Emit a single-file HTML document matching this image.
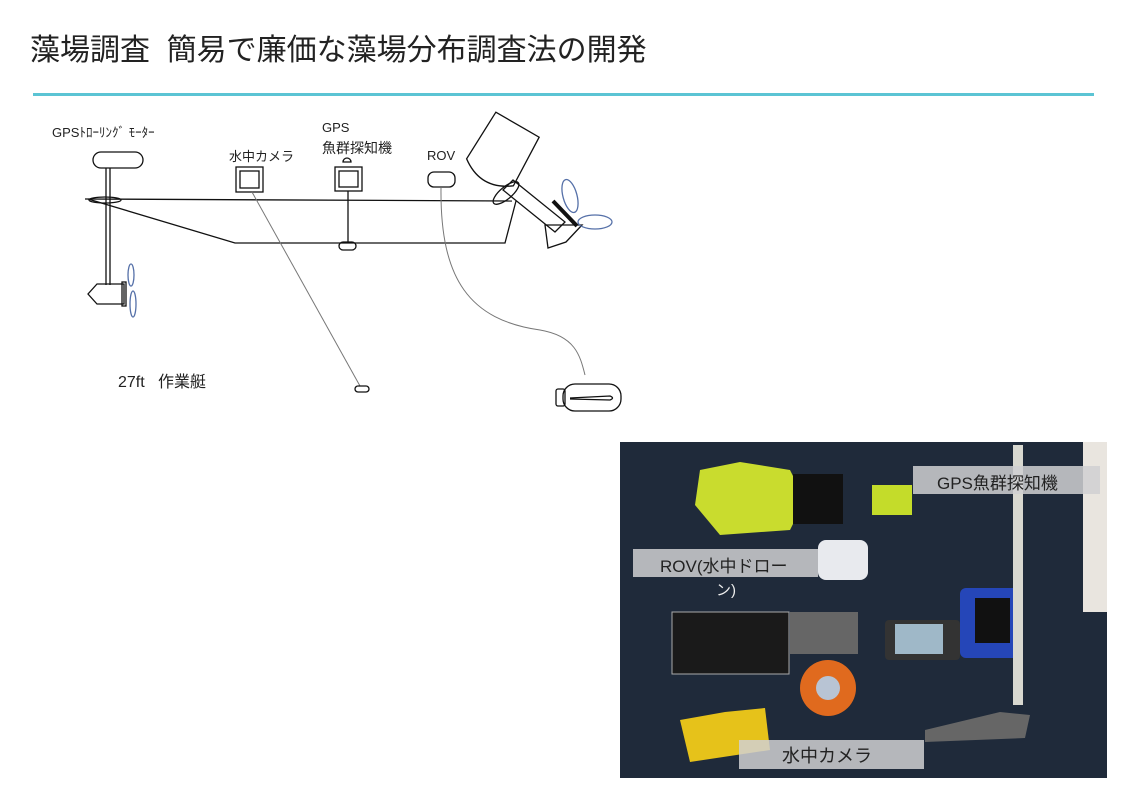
<!DOCTYPE html>
<html><head><meta charset="utf-8"><style>
body{margin:0;width:1123px;height:794px;background:#fff;overflow:hidden;position:relative;font-family:"Liberation Sans","Noto Sans CJK JP",sans-serif}
.t{position:absolute;white-space:nowrap;color:#222}
</style></head><body>
<div class="t" style="left:30px;top:25px;font-size:30px;color:#222">藻場調査&nbsp;&nbsp;簡易で廉価な藻場分布調査法の開発</div>
<div style="position:absolute;left:33px;top:93px;width:1061px;height:3px;background:#5bc4d4"></div>

<svg width="1123" height="794" style="position:absolute;left:0;top:0" xmlns="http://www.w3.org/2000/svg">
<g fill="none" stroke="#111" stroke-width="1.3">
 <line x1="85" y1="199" x2="512" y2="201"/>
 <polyline points="88,199 235,243 505,243 516,201"/>
 <rect x="93" y="152" width="50" height="16" rx="8"/>
 <line x1="106" y1="168" x2="106" y2="285"/>
 <line x1="110" y1="168" x2="110" y2="285"/>
 <ellipse cx="105" cy="200" rx="16" ry="3"/>
 <polygon points="97,284 124,284 124,304 97,304 88,294"/>
 <rect x="122" y="282" width="4" height="24"/>
 <rect x="236" y="167" width="27" height="25"/><rect x="240" y="171" width="19" height="17"/>
 <line x1="252" y1="192" x2="360" y2="386" stroke="#777" stroke-width="1"/>
 <rect x="355" y="386" width="14" height="6" rx="3"/>
 <rect x="335" y="167" width="27" height="24"/><rect x="339" y="171" width="19" height="16"/>
 <path d="M343,162 a4,4 0 0 1 8,0 z"/>
 <line x1="348" y1="191" x2="348" y2="242"/>
 <rect x="339" y="242" width="17" height="8" rx="4"/>
 <rect x="428" y="172" width="27" height="15" rx="6"/>
 <path d="M441,188 C440,280 470,320 540,330 C575,336 580,355 585,375" stroke="#777" stroke-width="1"/>
 <rect x="563" y="384" width="58" height="27" rx="12"/>
 <rect x="556" y="389" width="9" height="17" rx="2"/>
 <path d="M570,398 L610,396 Q615,398 610,400 L570,399" />
 <!-- outboard -->
 <g transform="rotate(30 500 155)">
  <path d="M475,120 L525,120 L527,175 Q500,195 473,175 z"/>
 </g>
 <polygon points="503,190 513,180 565,222 555,232"/>
 <ellipse cx="506" cy="193" rx="6" ry="16" transform="rotate(50 506 193)"/>
 <line x1="553" y1="201" x2="577" y2="226" stroke-width="4"/>
 <polygon points="545,225 582,225 566,242 548,248"/>
</g>
<g fill="none" stroke="#5570a8" stroke-width="1.3">
 <ellipse cx="131" cy="275" rx="3" ry="11"/><ellipse cx="133" cy="304" rx="3" ry="13"/>
 <ellipse cx="570" cy="196" rx="7" ry="17" transform="rotate(-15 570 196)"/>
 <ellipse cx="595" cy="222" rx="17" ry="7"/>
</g>
<g>
 <rect x="620" y="442" width="487" height="336" fill="#1f2a3a"/>
 <rect x="1083" y="442" width="24" height="170" fill="#e9e5df"/>
 <polygon points="700,470 740,462 790,470 805,500 790,530 720,535 695,505" fill="#c9dc2e"/>
 <rect x="793" y="474" width="50" height="50" fill="#111"/>
 <rect x="872" y="485" width="40" height="30" fill="#c4dc2a"/>
 <rect x="818" y="540" width="50" height="40" rx="8" fill="#e8eaee"/>
 <rect x="672" y="612" width="117" height="62" fill="#1a1a1a" stroke="#aaa"/>
 <rect x="790" y="612" width="68" height="42" fill="#666"/>
 <circle cx="828" cy="688" r="28" fill="#e06a1e"/><circle cx="828" cy="688" r="12" fill="#b8c4d4"/>
 <rect x="885" y="620" width="75" height="40" rx="4" fill="#333"/>
 <rect x="895" y="624" width="48" height="30" fill="#9fb8c8"/>
 <rect x="960" y="588" width="62" height="70" rx="6" fill="#2546b8"/>
 <rect x="975" y="598" width="35" height="45" fill="#111"/>
 <rect x="1013" y="445" width="10" height="260" fill="#d8d8d0"/>
 <polygon points="925,730 1000,712 1030,715 1025,738 925,742" fill="#666"/>
 <polygon points="680,720 725,712 765,708 770,750 690,762" fill="#e6c21a"/>
 <rect x="913" y="466" width="187" height="28" fill="#d0d0d2" fill-opacity="0.85"/>
 <rect x="633" y="549" width="185" height="28" fill="#d0d0d2" fill-opacity="0.85"/>
 <rect x="739" y="740" width="185" height="29" fill="#d0d0d2" fill-opacity="0.85"/>
</g>
</svg>
<div class="t" style="left:52px;top:122px;font-size:13px">GPSﾄﾛｰﾘﾝｸﾞ ﾓｰﾀｰ</div>
<div class="t" style="left:229px;top:146px;font-size:13px">水中カメラ</div>
<div class="t" style="left:322px;top:120px;font-size:13px">GPS</div>
<div class="t" style="left:322px;top:138px;font-size:14px">魚群探知機</div>
<div class="t" style="left:427px;top:148px;font-size:13px">ROV</div>
<div class="t" style="left:118px;top:368px;font-size:16px">27ft&nbsp;&nbsp;&nbsp;作業艇</div>
<div class="t" style="left:937px;top:469px;font-size:17px;color:#222">GPS魚群探知機</div>
<div class="t" style="left:660px;top:552px;font-size:17px;color:#222">ROV(水中ドロー</div>
<div class="t" style="left:716px;top:579px;font-size:15px;color:#eee">ン)</div>
<div class="t" style="left:782px;top:742px;font-size:18px;color:#222">水中カメラ</div>
</body></html>
